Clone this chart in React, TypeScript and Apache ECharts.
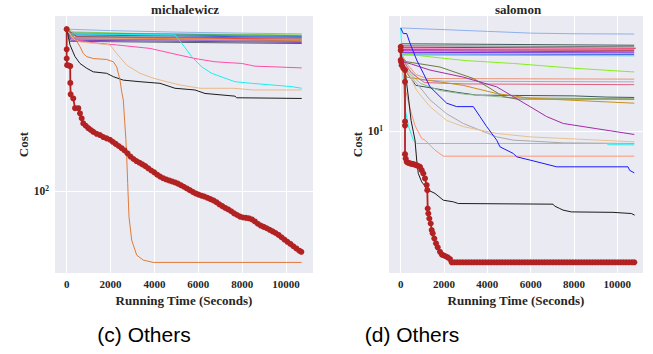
import React, { useEffect, useRef } from "react";
import * as echarts from "echarts";

type P = [number, number];

const xTickValues = [0, 2000, 4000, 6000, 8000, 10000];
const titles = ["michalewicz", "salomon"];
const captions = ["(c) Others", "(d) Others"];
const xAxisName = "Running Time (Seconds)";
const yAxisName = "Cost";

// ---------------- michalewicz ----------------
const michTop1: P[] = [[0, 443], [2000, 437], [5000, 431], [8000, 427], [10716, 424]];
const michTop2: P[] = [[0, 443], [300, 432], [3000, 426], [10716, 420]];
const michTop3: P[] = [[0, 443], [200, 428], [10716, 417]];
const michTop4: P[] = [[0, 443], [150, 424], [10716, 414]];
const michTop5: P[] = [[0, 443], [120, 420], [10716, 411]];
const michTop6: P[] = [[0, 443], [400, 414], [10716, 408]];
const michTop7: P[] = [[0, 443], [500, 412], [10716, 404]];
const michTop8: P[] = [[0, 443], [300, 410], [10716, 401]];
const michTop9: P[] = [[0, 443], [250, 405], [10716, 398]];
const michTop10: P[] = [[0, 443], [100, 418], [250, 405], [10716, 395]];
const michTop11: P[] = [[0, 443], [200, 400], [10716, 392]];
const michTop12: P[] = [[0, 443], [150, 396], [10716, 388]];
const michPink: P[] = [[0, 443], [300, 405], [1062, 392], [2280, 383], [3798, 371], [4939, 352], [5850, 338], [6762, 328], [7980, 323], [8587, 315], [9500, 313], [10716, 310]];
const michCyan: P[] = [[0, 443], [150, 424], [4800, 420], [4939, 420], [5244, 389], [5700, 344], [6156, 313], [6612, 295], [7220, 282], [7675, 273], [8436, 269], [10260, 261], [10716, 257]];
const michTan: P[] = [[0, 443], [300, 405], [606, 394], [1974, 383], [2280, 354], [2736, 318], [3342, 295], [3949, 282], [4560, 273], [5166, 265], [6078, 257], [7597, 257], [8509, 253], [10716, 253]];
const michBlack: P[] = [[0, 443], [73, 413], [151, 383], [379, 344], [606, 323], [912, 309], [1213, 299], [1824, 295], [2125, 286], [2581, 277], [3342, 273], [4254, 269], [4939, 257], [5850, 253], [6307, 245], [7675, 239], [7750, 235.5], [10716, 234]];
const michOrange: P[] = [[0, 443], [379, 407], [606, 377], [757, 354], [912, 344], [1213, 338], [1824, 335], [2125, 328], [2280, 313], [2430, 277], [2508, 249], [2581, 231], [2700, 160], [2736, 137], [2782, 107], [2841, 78.7], [2964, 63.5], [3192, 55.3], [3493, 52.8], [3949, 51.7], [10716, 51.7]];
const michRed: P[] = [
  [0, 443], [0, 368], [0, 338], [20, 318], [100, 317], [160, 315], [165, 270], [180, 243], [300, 234], [380, 214], [530, 214], [606, 204],
  [684, 195], [757, 186], [870, 182], [985, 178], [1100, 175], [1213, 172], [1365, 169], [1518, 167], [1670, 164], [1820, 162], [1974, 160],
  [2100, 157], [2235, 154], [2370, 151], [2505, 148], [2640, 145], [2775, 141], [2910, 137], [3045, 134], [3180, 131.5], [3315, 129.5],
  [3450, 127.5], [3585, 125.5], [3720, 123], [3855, 120.5], [3990, 118.5], [4125, 116], [4260, 114], [4395, 112.3], [4530, 111], [4665, 110],
  [4800, 109], [4935, 108], [5070, 106.8], [5205, 105.3], [5340, 103.8], [5475, 102.2], [5610, 100.6], [5745, 99], [5880, 97.6], [6015, 96.5],
  [6150, 95.6], [6285, 94.8], [6420, 93.7], [6555, 92.6], [6690, 91.5], [6825, 90], [6960, 88.3], [7095, 86.8], [7230, 85.4], [7365, 84.2],
  [7500, 82.8], [7635, 81.2], [7770, 80], [7905, 78.8], [8040, 78.2], [8175, 77.9], [8310, 77.6], [8445, 76.8], [8580, 75.4], [8715, 73.8],
  [8850, 72.6], [8985, 71.7], [9120, 70.8], [9255, 69.8], [9390, 68.8], [9525, 67.8], [9660, 66.6], [9795, 65.2], [9930, 63.8], [10065, 62.5],
  [10200, 61.3], [10335, 60], [10470, 58.8], [10605, 57.6], [10700, 57],
];

// ---------------- salomon ----------------
const salTopBlue: P[] = [[0, 25.8], [2000, 25.4], [4000, 25.0], [6000, 24.6], [8000, 24.45], [10780, 24.4]];
const salFlat1: P[] = [[0, 22.3], [10780, 22.0]];
const salFlat2: P[] = [[0, 21.9], [10780, 21.7]];
const salFlat3: P[] = [[0, 21.6], [10850, 21.4]];
const salFlat4: P[] = [[0, 21.3], [10780, 21.2]];
const salFlat5: P[] = [[0, 21.1], [10780, 21.0]];
const salFlat6: P[] = [[0, 20.9], [10780, 20.7]];
const salFlat7: P[] = [[0, 20.6], [10780, 20.5]];
const salFlat8: P[] = [[0, 20.3], [10780, 20.2]];
const salFlat9: P[] = [[0, 20.1], [10780, 19.96]];
const salLime: P[] = [[0, 20.4], [1300, 19.8], [3000, 19.1], [5200, 18.6], [8000, 17.8], [10780, 17.2]];
const salSalmon: P[] = [[0, 20.5], [300, 18.5], [700, 16.8], [1200, 16.2], [10780, 16.1]];
const salLavender: P[] = [[0, 20.0], [400, 17.5], [900, 16.0], [2000, 15.8], [10780, 15.7]];
const salRose: P[] = [[0, 19.8], [500, 17.0], [1100, 15.6], [3000, 15.4], [10780, 15.3]];
const salSlate: P[] = [[0, 20.0], [300, 17.0], [700, 15.2], [1500, 14.8], [2500, 14.3], [3500, 13.9], [5500, 13.85], [8000, 13.8], [9500, 13.65], [10780, 13.6]];
const salSeaGreen: P[] = [[0, 19.5], [400, 17.0], [900, 15.5], [1800, 14.5], [3000, 14.0], [5000, 13.6], [10780, 13.4]];
const salOlive: P[] = [[0, 19.6], [277, 18.9], [1814, 18.0], [3352, 16.2], [4123, 14.8], [4737, 13.7], [5355, 13.4], [10785, 13.4]];
const salGold: P[] = [[0, 19.0], [277, 16.4], [2890, 15.2], [4432, 14.1], [5970, 13.5], [10785, 12.9]];
const salMagenta: P[] = [[0, 19.0], [500, 18.5], [1353, 17.5], [2890, 16.4], [4432, 15.0], [5198, 13.7], [5970, 12.5], [6740, 11.4], [7507, 10.7], [9049, 10.2], [10785, 9.67]];
const salBlue: P[] = [[0, 25.8], [120, 24.5], [277, 24.5], [429, 22.4], [739, 19.2], [1043, 17.0], [1353, 15.0], [1814, 13.7], [2124, 12.9], [2585, 12.5], [3352, 12.5], [3661, 11.4], [3970, 10.4], [4432, 9.18], [4584, 8.63], [5198, 8.12], [5355, 7.87], [5970, 7.64], [7202, 7.18], [10494, 7.18], [10572, 6.95], [10785, 6.79]];
const salGray: P[] = [[0, 19.5], [300, 17.0], [739, 15.5], [1353, 13.3], [2124, 11.7], [2890, 10.7], [3661, 10.06], [4432, 9.46], [5198, 9.18], [7507, 8.95], [10785, 8.9]];
const salTan: P[] = [[0, 19.8], [300, 17.5], [739, 14.5], [1353, 12.5], [2124, 11.0], [2890, 10.4], [4432, 9.76], [5970, 9.46], [10785, 9.04]];
const salCyan: P[] = [[0, 25.8], [46, 20.7], [199, 12.3], [351, 10.5], [582, 9.18], [739, 8.9], [9500, 8.9], [9600, 8.8], [10785, 8.79]];
const salCoral: P[] = [[0, 21.0], [100, 17.0], [199, 14.8], [429, 12.3], [660, 10.5], [970, 9.32], [1122, 9.18], [1584, 8.37], [1967, 7.92], [10785, 7.92]];
const salBlack: P[] = [[0, 20.5], [199, 17.5], [369, 13.3], [480, 11.0], [660, 9.18], [739, 7.64], [813, 6.75], [970, 6.25], [1274, 5.79], [1584, 5.62], [1967, 5.28], [2428, 5.2], [2659, 5.12], [7031, 5.09], [7110, 5.0], [7341, 4.89], [7493, 4.82], [7876, 4.74], [9801, 4.72], [10646, 4.67], [10803, 4.6]];
const salRed: P[] = [
  [0, 21.7], [0, 21.0], [0, 19.2], [14, 18.9], [46, 18.3], [120, 17.8], [199, 17.5], [199, 15.7], [199, 10.9], [199, 10.5], [199, 8.07],
  [230, 7.75], [277, 7.52], [350, 7.45], [429, 7.41], [500, 7.38], [582, 7.36], [660, 7.32], [739, 7.28], [820, 7.22], [891, 7.18],
  [970, 6.96], [1043, 6.75], [1122, 6.45], [1200, 6.07], [1228, 5.79], [1247, 4.89], [1274, 4.67], [1320, 4.46], [1385, 4.26], [1431, 4.01],
  [1477, 3.89], [1551, 3.71], [1630, 3.55], [1708, 3.42], [1814, 3.28], [1900, 3.2], [1967, 3.18], [2070, 3.15], [2170, 3.12], [2276, 3.07],
  [2355, 2.98], [2485, 2.98], [2615, 2.98], [2745, 2.98], [2875, 2.98], [3005, 2.98], [3135, 2.98], [3265, 2.98], [3395, 2.98], [3525, 2.98],
  [3655, 2.98], [3785, 2.98], [3915, 2.98], [4045, 2.98], [4175, 2.98], [4305, 2.98], [4435, 2.98], [4565, 2.98], [4695, 2.98], [4825, 2.98],
  [4955, 2.98], [5085, 2.98], [5215, 2.98], [5345, 2.98], [5475, 2.98], [5605, 2.98], [5735, 2.98], [5865, 2.98], [5995, 2.98], [6125, 2.98],
  [6255, 2.98], [6385, 2.98], [6515, 2.98], [6645, 2.98], [6775, 2.98], [6905, 2.98], [7035, 2.98], [7165, 2.98], [7295, 2.98], [7425, 2.98],
  [7555, 2.98], [7685, 2.98], [7815, 2.98], [7945, 2.98], [8075, 2.98], [8205, 2.98], [8335, 2.98], [8465, 2.98], [8595, 2.98], [8725, 2.98],
  [8855, 2.98], [8985, 2.98], [9115, 2.98], [9245, 2.98], [9375, 2.98], [9505, 2.98], [9635, 2.98], [9765, 2.98], [9895, 2.98], [10025, 2.98],
  [10155, 2.98], [10285, 2.98], [10415, 2.98], [10545, 2.98], [10675, 2.98], [10785, 2.98],
];

const serif = '"Liberation Serif", "Times New Roman", serif';
const sans = '"Liberation Sans", Arial, Helvetica, sans-serif';
const txt = "#262626";
const RED = "#b22222";

const line = (data: P[], color: string, idx: number, width = 1) => ({
  type: "line",
  xAxisIndex: idx,
  yAxisIndex: idx,
  data,
  symbol: "none",
  showSymbol: false,
  silent: true,
  lineStyle: { color, width },
  itemStyle: { color },
  emphasis: { disabled: true },
});

const redLine = (data: P[], idx: number) => ({
  type: "line",
  xAxisIndex: idx,
  yAxisIndex: idx,
  data,
  symbol: "circle",
  symbolSize: 6,
  showSymbol: true,
  showAllSymbol: true,
  silent: true,
  lineStyle: { color: RED, width: 1.8 },
  itemStyle: { color: RED, borderWidth: 0 },
  emphasis: { disabled: true },
  z: 5,
});

const xAxisCfg = (gi: number, min: number, max: number) => ({
  type: "value",
  gridIndex: gi,
  min,
  max,
  axisLine: { show: false },
  axisTick: { show: false, customValues: xTickValues },
  axisLabel: {
    customValues: xTickValues,
    margin: 5,
    color: txt,
    fontFamily: serif,
    fontWeight: "bold",
    fontSize: 11,
    formatter: (v: number) => (xTickValues.includes(v) ? String(v) : ""),
  },
  splitLine: { show: true, lineStyle: { color: "#ffffff", width: 1 } },
  name: xAxisName,
  nameLocation: "middle",
  nameGap: 16,
  nameTextStyle: { color: txt, fontFamily: serif, fontWeight: "bold", fontSize: 13 },
});

const yAxisCfg = (gi: number, min: number, max: number) => ({
  type: "log",
  logBase: 10,
  gridIndex: gi,
  min,
  max,
  axisLine: { show: false },
  axisTick: { show: false },
  axisLabel: {
    margin: 6,
    showMinLabel: false,
    showMaxLabel: false,
    formatter: (v: number) => {
      const e = Math.log10(v);
      if (Math.abs(e - Math.round(e)) < 1e-6) return `{b|10}{s|${Math.round(e)}}`;
      return "";
    },
    rich: {
      b: { fontFamily: serif, fontWeight: "bold", fontSize: 11.5, color: txt, lineHeight: 13 },
      s: { fontFamily: serif, fontWeight: "bold", fontSize: 7.5, color: txt, verticalAlign: "top", lineHeight: 13 },
    },
  },
  splitLine: { show: true, showMinLine: false, showMaxLine: false, lineStyle: { color: "#ffffff", width: 1 } },
  name: yAxisName,
  nameLocation: "middle",
  nameRotate: 90,
  nameGap: 25,
  nameTextStyle: { color: txt, fontFamily: serif, fontWeight: "bold", fontSize: 13 },
});

export default function App() {
  const ref = useRef<HTMLDivElement>(null);
  useEffect(() => {
    if (!ref.current) return;
    const chart = echarts.init(ref.current, undefined, { renderer: "svg" });
    const option: any = {
      animation: false,
      backgroundColor: "#ffffff",
      grid: [
        { left: 55, top: 16, width: 258, height: 257, show: true, backgroundColor: "#eaeaf2", borderWidth: 0, containLabel: false, outerBoundsMode: "none" },
        { left: 389, top: 16, width: 254, height: 257, show: true, backgroundColor: "#eaeaf2", borderWidth: 0, containLabel: false, outerBoundsMode: "none" },
      ],
      xAxis: [xAxisCfg(0, -533, 11231), xAxisCfg(1, -540, 11187)],
      yAxis: [yAxisCfg(0, 46.9, 500), yAxisCfg(1, 2.7, 28.8)],
      series: [
        line(michTop1, "#8fb1e6", 0),
        line(michTop2, "#9ad654", 0),
        line(michTop3, "#46a86a", 0),
        line(michTop4, "#3f86c4", 0),
        line(michTop5, "#3a5fe0", 0),
        line(michTop6, "#5f7488", 0),
        line(michTop7, "#e0383a", 0),
        line(michTop8, "#e6862a", 0),
        line(michTop9, "#c8782a", 0),
        line(michTop10, "#9a70da", 0),
        line(michTop11, "#7440b8", 0),
        line(michTop12, "#56606a", 0),
        line(michPink, "#ff4fa8", 0),
        line(michCyan, "#19f0f0", 0),
        line(michTan, "#e9b98a", 0),
        line(michBlack, "#1c1c1c", 0),
        line(michOrange, "#e07b39", 0),
        redLine(michRed, 0),

        line(salTopBlue, "#8fb0ec", 1),
        line(salFlat1, "#3c5a5a", 1),
        line(salFlat2, "#7a7a7a", 1),
        line(salFlat3, "#dc143c", 1),
        line(salFlat4, "#ff69b4", 1),
        line(salFlat5, "#b0203c", 1),
        line(salFlat6, "#a030c0", 1),
        line(salFlat7, "#7a2be2", 1),
        line(salFlat8, "#4169e1", 1),
        line(salFlat9, "#40d8e0", 1),
        line(salLime, "#84ee1c", 1),
        line(salSalmon, "#e9967a", 1),
        line(salLavender, "#a4a9cf", 1),
        line(salRose, "#e0607e", 1),
        line(salSlate, "#3f5a5a", 1),
        line(salSeaGreen, "#8fbc8f", 1),
        line(salOlive, "#6b7d3a", 1),
        line(salGold, "#c8901a", 1),
        line(salMagenta, "#a22aa8", 1),
        line(salGray, "#a9a9a9", 1),
        line(salTan, "#e8c090", 1),
        line(salCyan, "#22eeee", 1),
        line(salCoral, "#fc9572", 1),
        line(salBlue, "#1a1aff", 1),
        line(salBlack, "#1c1c1c", 1),
        redLine(salRed, 1),
      ],
      graphic: [
        { type: "text", x: 185, y: 9, silent: true, style: { text: titles[0], fontFamily: serif, fontWeight: "bold", fontSize: 13, fill: txt, align: "center", verticalAlign: "middle", textAlign: "center", textVerticalAlign: "middle" } },
        { type: "text", x: 518, y: 9, silent: true, style: { text: titles[1], fontFamily: serif, fontWeight: "bold", fontSize: 13, fill: txt, align: "center", verticalAlign: "middle", textAlign: "center", textVerticalAlign: "middle" } },
        { type: "text", x: 144, y: 334, silent: true, style: { text: captions[0], fontFamily: sans, fontSize: 21, fill: "#000000", align: "center", verticalAlign: "middle", textAlign: "center", textVerticalAlign: "middle" } },
        { type: "text", x: 412, y: 334, silent: true, style: { text: captions[1], fontFamily: sans, fontSize: 21, fill: "#000000", align: "center", verticalAlign: "middle", textAlign: "center", textVerticalAlign: "middle" } },
      ],
    };
    chart.setOption(option);
    return () => chart.dispose();
  }, []);
  return (
    <div
      ref={ref}
      style={{ position: "fixed", left: 0, top: 0, width: 653, height: 354, background: "#ffffff" }}
    />
  );
}
